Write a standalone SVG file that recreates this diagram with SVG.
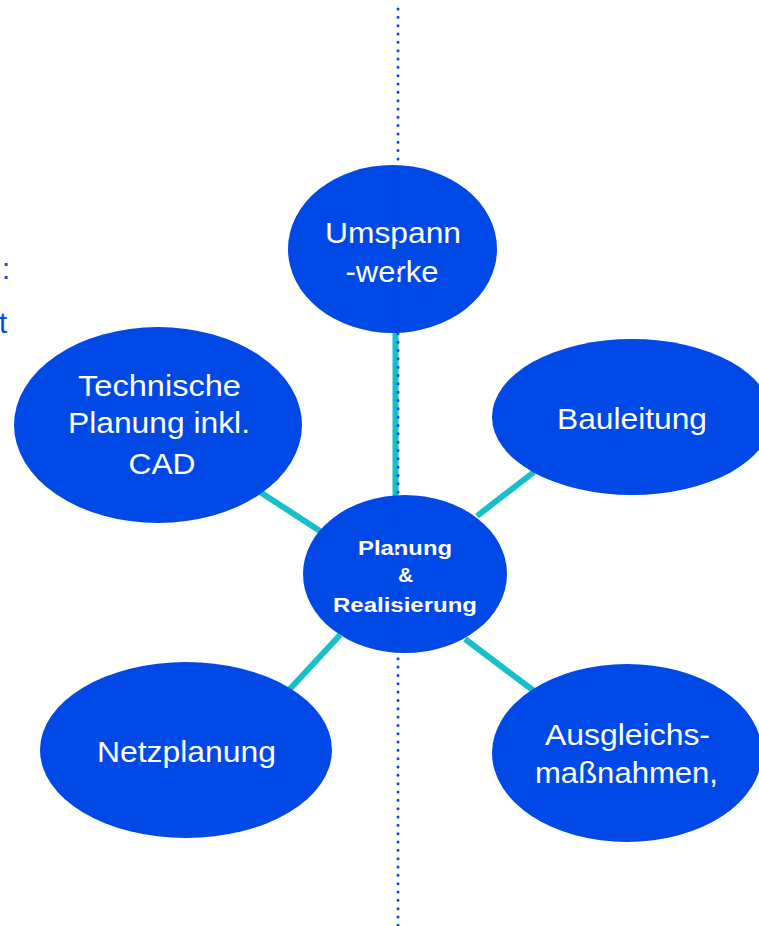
<svg xmlns="http://www.w3.org/2000/svg" width="759" height="926" viewBox="0 0 759 926">
<style>
.node{fill:#0049E6}
.lbl{fill:#ffffff;font-family:"Liberation Sans",Arial,sans-serif;font-size:30px;text-anchor:middle}
.ctr{fill:#ffffff;font-family:"Liberation Sans",Arial,sans-serif;font-size:21px;font-weight:bold;text-anchor:middle}
.conn{stroke:#17BFC9;stroke-width:6;fill:none}
.side{fill:#0049E6;font-family:"Liberation Sans",Arial,sans-serif;font-size:29px}
</style>
<rect width="759" height="926" fill="#ffffff"/>
<text class="side" x="2" y="279">:</text>
<text class="side" x="-1" y="333">t</text>
<g id="connectors">
<line class="conn" x1="395.5" y1="330" x2="395.5" y2="498"/>
<line class="conn" x1="260" y1="492" x2="320" y2="531"/>
<line class="conn" x1="534" y1="472" x2="477" y2="516"/>
<line class="conn" x1="340" y1="635" x2="289" y2="690"/>
<line class="conn" x1="465" y1="639" x2="534" y2="691"/>
</g>
<g id="umspannwerke">
<ellipse class="node" cx="392.5" cy="249" rx="104.5" ry="84"/>
<text class="lbl" x="393" y="243" textLength="136" lengthAdjust="spacingAndGlyphs">Umspann</text>
<text class="lbl" x="392" y="282" textLength="93" lengthAdjust="spacingAndGlyphs">-werke</text>
</g>
<g id="technische">
<ellipse class="node" cx="158" cy="425" rx="144" ry="98"/>
<text class="lbl" x="159.5" y="396" textLength="163" lengthAdjust="spacingAndGlyphs">Technische</text>
<text class="lbl" x="159" y="433" textLength="182" lengthAdjust="spacingAndGlyphs">Planung inkl.</text>
<text class="lbl" x="162" y="474" textLength="67" lengthAdjust="spacingAndGlyphs">CAD</text>
</g>
<g id="bauleitung">
<ellipse class="node" cx="632" cy="417" rx="140" ry="78"/>
<text class="lbl" x="632" y="429" textLength="150" lengthAdjust="spacingAndGlyphs">Bauleitung</text>
</g>
<g id="netzplanung">
<ellipse class="node" cx="186" cy="750" rx="146" ry="88"/>
<text class="lbl" x="186.5" y="762" textLength="179" lengthAdjust="spacingAndGlyphs">Netzplanung</text>
</g>
<g id="ausgleich">
<ellipse class="node" cx="627" cy="753" rx="135" ry="89"/>
<text class="lbl" x="627.5" y="745" textLength="165" lengthAdjust="spacingAndGlyphs">Ausgleichs-</text>
<text class="lbl" x="626.5" y="783" textLength="183" lengthAdjust="spacingAndGlyphs">maßnahmen,</text>
</g>
<g id="center">
<ellipse class="node" cx="405" cy="574" rx="102" ry="79"/>
<text class="ctr" x="405" y="555" textLength="94" lengthAdjust="spacingAndGlyphs">Planung</text>
<text class="ctr" x="405.5" y="582">&amp;</text>
<text class="ctr" x="405" y="612" textLength="144" lengthAdjust="spacingAndGlyphs">Realisierung</text>
</g>
<g id="divider">
<line x1="398" y1="9" x2="398" y2="926" stroke="#0049E6" stroke-width="3" stroke-linecap="round" stroke-dasharray="0 8.33"/>
</g>
</svg>
